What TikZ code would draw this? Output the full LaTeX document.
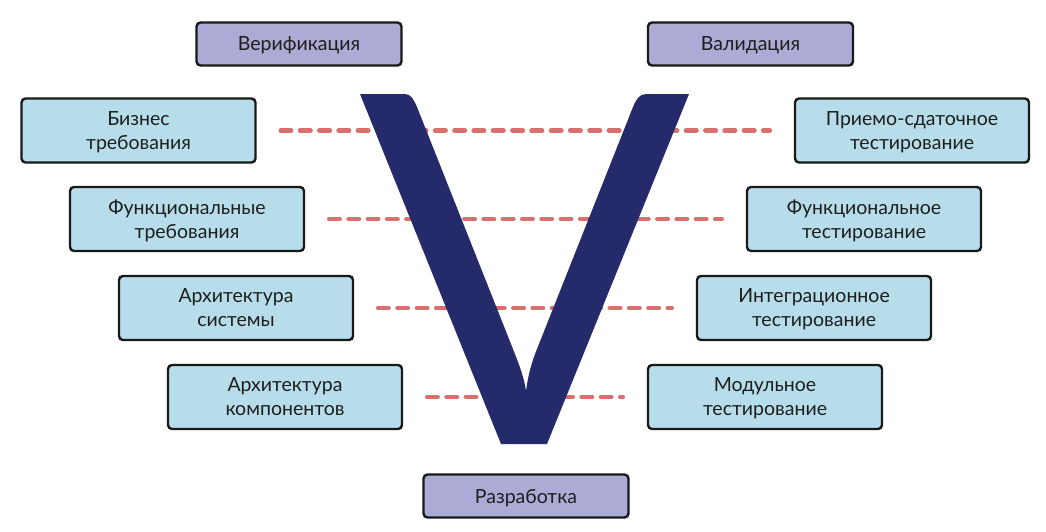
\documentclass[tikz,border=0pt]{standalone}
\usepackage{fontspec}
\setmainfont{Lato}
\definecolor{vnavy}{HTML}{252A6B}
\definecolor{boxblue}{HTML}{B7DDEA}
\definecolor{boxpurple}{HTML}{ABABD5}
\definecolor{dashred}{HTML}{D8706E}
\definecolor{txt}{HTML}{1E1E1E}
\tikzset{
  basebox/.style={draw=black!90, line width=2.4pt, rounded corners=4pt, align=center,
    text=txt, font=\fontsize{19.5}{24}\selectfont, inner sep=0pt, text depth=0pt},
  bluebox/.style={basebox, fill=boxblue, minimum width=234pt, minimum height=64pt},
  purplebox/.style={basebox, fill=boxpurple, minimum width=205pt, minimum height=43pt},
  link/.style={draw=dashred, line width=4.5pt, line cap=round, dash pattern=on 10.5pt off 8.8pt}
}
\begin{document}
\begin{tikzpicture}[x=1pt,y=-1pt]
\useasboundingbox (0,0) rectangle (1046,531);
\node[purplebox] (verif) at (299,44) {Верификация};
\node[purplebox] (valid) at (750.5,44) {Валидация};
\node[purplebox] (dev) at (526,496) {Разработка};
\node[bluebox] (biz) at (138.5,130.5) {Бизнес\\требования};
\node[bluebox] (acc) at (912,130.5) {Приемо-сдаточное\\тестирование};
\node[bluebox] (freq) at (187,219) {Функциональные\\требования};
\node[bluebox] (ftest) at (864,219) {Функциональное\\тестирование};
\node[bluebox] (asys) at (236,308) {Архитектура\\системы};
\node[bluebox] (itest) at (814,308) {Интеграционное\\тестирование};
\node[bluebox] (acomp) at (285,397) {Архитектура\\компонентов};
\node[bluebox] (mtest) at (765,397) {Модульное\\тестирование};
\draw[link] ([xshift=24pt]biz.east) -- ([xshift=-24pt]acc.west);
\draw[link] ([xshift=24pt]freq.east) -- ([xshift=-24pt]ftest.west);
\draw[link] ([xshift=24pt]asys.east) -- ([xshift=-24pt]itest.west);
\draw[link] ([xshift=24pt]acomp.east) -- ([xshift=-24pt]mtest.west);
% the V
\fill[vnavy] (360,94) -- (405,94) .. controls (411,94) and (414,100) .. (417,107)
  -- (511,344) .. controls (518,362) and (524,376) .. (526,391)
  .. controls (528,376) and (531,364) .. (537,349)
  -- (633,107) .. controls (636,100) and (639,94) .. (646,94)
  -- (689,94) -- (547,444) -- (501,444) -- cycle;
\end{tikzpicture}
\end{document}
